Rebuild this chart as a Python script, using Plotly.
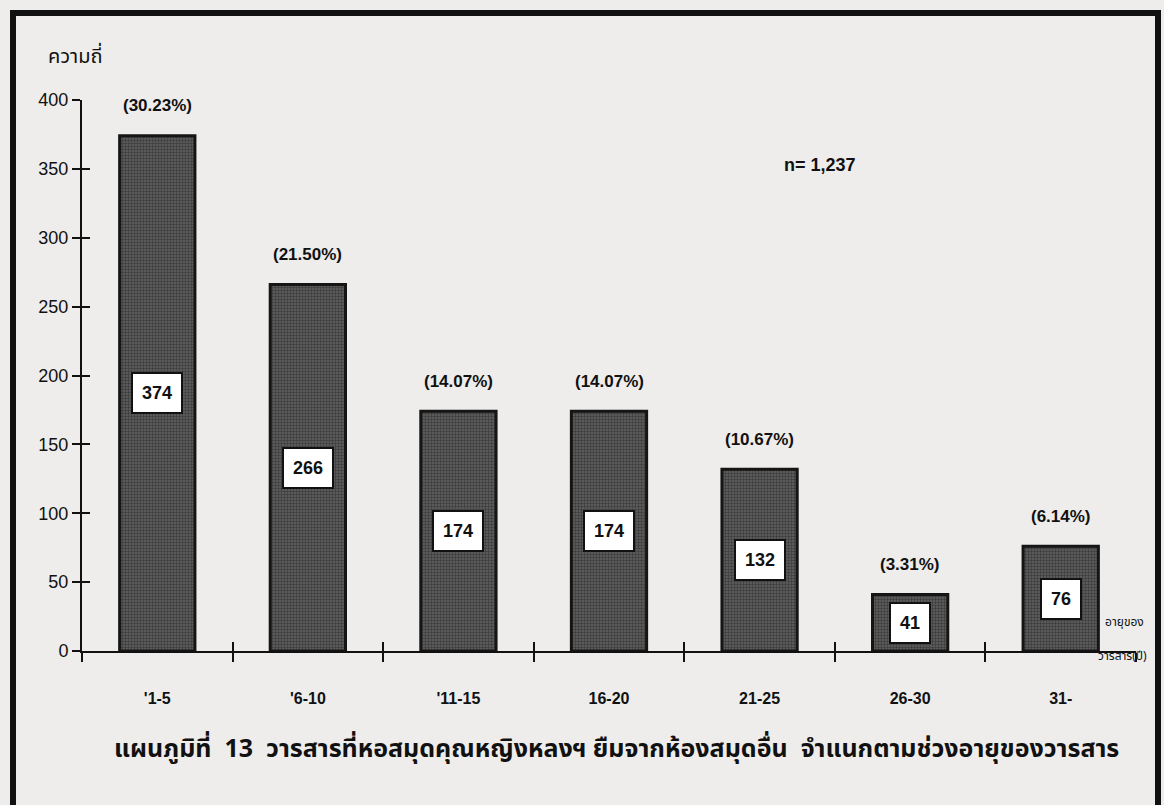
import plotly.graph_objects as go

categories = ["'1-5", "'6-10", "'11-15", "16-20", "21-25", "26-30", "31-"]
counts = [374, 266, 174, 174, 132, 41, 76]
percents = ["(30.23%)", "(21.50%)", "(14.07%)", "(14.07%)", "(10.67%)", "(3.31%)", "(6.14%)"]
y_ticks = [0, 50, 100, 150, 200, 250, 300, 350, 400]

W, H = 1164, 805
L, R, T, B = 82, 28, 100, 154
pw, ph = W - L - R, H - T - B

def px(x):
    return (x - L) / pw

def py(y):
    return (H - B - y) / ph

BG = "#eeedeb"
FONT = "Liberation Sans, Arial, sans-serif"
THAI = "Noto Sans Thai, Loma, Garuda, Tlwg Typo, DejaVu Sans, sans-serif"

fig = go.Figure()
fig.add_trace(go.Bar(
    x=categories, y=counts, width=0.5,
    marker=dict(color="#3c3c3c", line=dict(color="#151515", width=3),
                pattern=dict(shape="+", fgcolor="#1c1c1c", bgcolor="#5a5a5a", size=3, solidity=0.4)),
    showlegend=False, hoverinfo="skip",
))
# invisible trace for the overlay axis (inside ticks)
fig.add_trace(go.Scatter(x=categories, y=counts, xaxis="x2", yaxis="y2", mode="markers",
                         marker=dict(opacity=0), showlegend=False, hoverinfo="skip"))

annotations = []
for c, v, p in zip(categories, counts, percents):
    annotations.append(dict(x=c, y=v, text="<b>%s</b>" % p, showarrow=False, yshift=30,
                            font=dict(family=FONT, size=17, color="#111")))
    annotations.append(dict(x=c, y=v / 2, text="<b>%d</b>" % v, showarrow=False,
                            bgcolor="white", bordercolor="#111", borderwidth=2,
                            borderpad=9, font=dict(family=FONT, size=18, color="#111")))

annotations += [
    dict(xref="paper", yref="paper", x=px(75), y=py(57), text="ความถี่", showarrow=False,
         xanchor="center", yanchor="middle", font=dict(family=THAI, size=20, color="#111")),
    dict(xref="paper", yref="paper", x=px(820), y=py(165), text="<b>n= 1,237</b>", showarrow=False,
         xanchor="center", yanchor="middle", font=dict(family=FONT, size=18, color="#111")),
    dict(xref="paper", yref="paper", x=px(1124), y=py(622), text="อายุของ", showarrow=False,
         xanchor="center", yanchor="middle", font=dict(family=THAI, size=12, color="#111")),
    dict(xref="paper", yref="paper", x=px(1122), y=py(656), text="วารสาร(ปี)", showarrow=False,
         xanchor="center", yanchor="middle", font=dict(family=THAI, size=12, color="#111")),
    dict(xref="paper", yref="paper", x=px(616), y=py(749),
         text="<b>แผนภูมิที่  13  วารสารที่หอสมุดคุณหญิงหลงฯ ยืมจากห้องสมุดอื่น  จำแนกตามช่วงอายุของวารสาร</b>",
         xanchor="center", yanchor="middle",
         showarrow=False, font=dict(family=THAI, size=25, color="#111")),
]

fig.update_layout(
    width=W, height=H,
    margin=dict(l=L, r=R, t=T, b=B),
    paper_bgcolor=BG, plot_bgcolor=BG,
    bargap=0.5,
    xaxis=dict(type="category", categoryorder="array", categoryarray=categories,
               range=[-0.5, 6.5], tickson="boundaries", ticks="outside", ticklen=9,
               tickwidth=2, tickcolor="#111", showline=True, linecolor="#111", linewidth=2,
               showgrid=False, zeroline=False, ticklabelstandoff=32,
               tickfont=dict(family=FONT, size=16, color="#111", weight="bold")),
    yaxis=dict(range=[0, 400], tickvals=y_ticks, ticks="outside", ticklen=8, tickwidth=2,
               tickcolor="#111", showline=True, linecolor="#111", linewidth=2,
               showgrid=False, zeroline=False,
               tickfont=dict(family=FONT, size=18, color="#111")),
    xaxis2=dict(type="category", categoryorder="array", categoryarray=categories, overlaying="x",
                range=[-0.5, 6.5], tickson="boundaries", ticks="inside", ticklen=9, tickwidth=2,
                tickcolor="#111", showticklabels=False, showgrid=False, zeroline=False, anchor="y2"),
    yaxis2=dict(range=[0, 400], tickvals=y_ticks, overlaying="y", ticks="inside", ticklen=8,
                tickwidth=2, tickcolor="#111", showticklabels=False, showgrid=False,
                zeroline=False, anchor="x2"),
    annotations=annotations,
    shapes=[dict(type="rect", xref="paper", yref="paper",
                 x0=px(13), x1=px(1158), y0=py(815), y1=py(13),
                 line=dict(color="#111", width=6), fillcolor="rgba(0,0,0,0)", layer="above")],
)

fig.write_html("out.html", config={"displayModeBar": False},
               post_script="document.body.style.margin='0';document.body.style.overflow='hidden';")
